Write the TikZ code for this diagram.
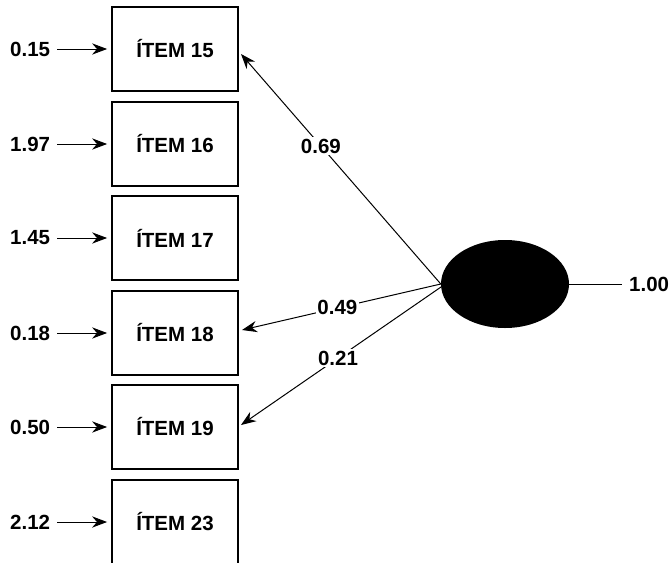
\documentclass[tikz,border=0pt]{standalone}
\usepackage{fontspec}
\setmainfont{Liberation Sans}
\usetikzlibrary{arrows.meta,calc,shapes.geometric}
\begin{document}
\begin{tikzpicture}[
  txt/.style={font=\fontsize{20.5}{24}\selectfont\bfseries},
  item/.style={txt, draw, line width=1.8pt, minimum width=126pt, minimum height=84pt, inner sep=0pt},
  lbl/.style={txt, inner sep=1pt},
  coef/.style={txt, fill=white, inner sep=1.5pt},
  link/.style={line width=1pt, -{Stealth[scale=2]}},
  err/.style={link, shorten <=6pt, shorten >=4pt}]
\begin{scope}[x=1pt,y=-1pt]
\useasboundingbox (0,0) rectangle (669,562);
\clip (0,0) rectangle (669,562);

% observed items
\node[item] (b15) at (175,49)  {ÍTEM 15};
\node[item] (b16) at (175,144) {ÍTEM 16};
\node[item] (b17) at (175,238) {ÍTEM 17};
\node[item] (b18) at (175,333) {ÍTEM 18};
\node[item] (b19) at (175,427) {ÍTEM 19};
\node[item] (b23) at (175,522) {ÍTEM 23};

% error variances
\node[lbl, anchor=west] (e15) at (9,49)  {0.15};
\node[lbl, anchor=west] (e16) at (9,144) {1.97};
\node[lbl, anchor=west] (e17) at (9,238) {1.45};
\node[lbl, anchor=west] (e18) at (9,333) {0.18};
\node[lbl, anchor=west] (e19) at (9,427) {0.50};
\node[lbl, anchor=west] (e23) at (9,522) {2.12};

% latent factor
\node[ellipse, fill=black, minimum width=128pt, minimum height=88pt, inner sep=0pt] (lat) at (505,284) {};
\node[lbl, anchor=west] (var) at (628,284) {1.00};
\coordinate (t15) at (241,54);
\coordinate (t18) at (242,330);
\coordinate (t19) at (241,425);
\coordinate (s19) at (441,287);
\end{scope}

\foreach \i in {15,16,17,18,19,23}
  \draw[err] (e\i.east) -- (e\i.east -| b\i.west);
\draw[line width=1pt, shorten >=6pt] (lat.east) -- (var.west);

% loadings
\draw[link] (lat.west) -- (t15) node[coef, pos=0.6] {0.69};
\draw[link] (lat.west) -- (t18) node[coef, pos=0.52] {0.49};
\draw[link] (s19) -- (t19) node[coef, pos=0.515] {0.21};
\end{tikzpicture}
\end{document}
